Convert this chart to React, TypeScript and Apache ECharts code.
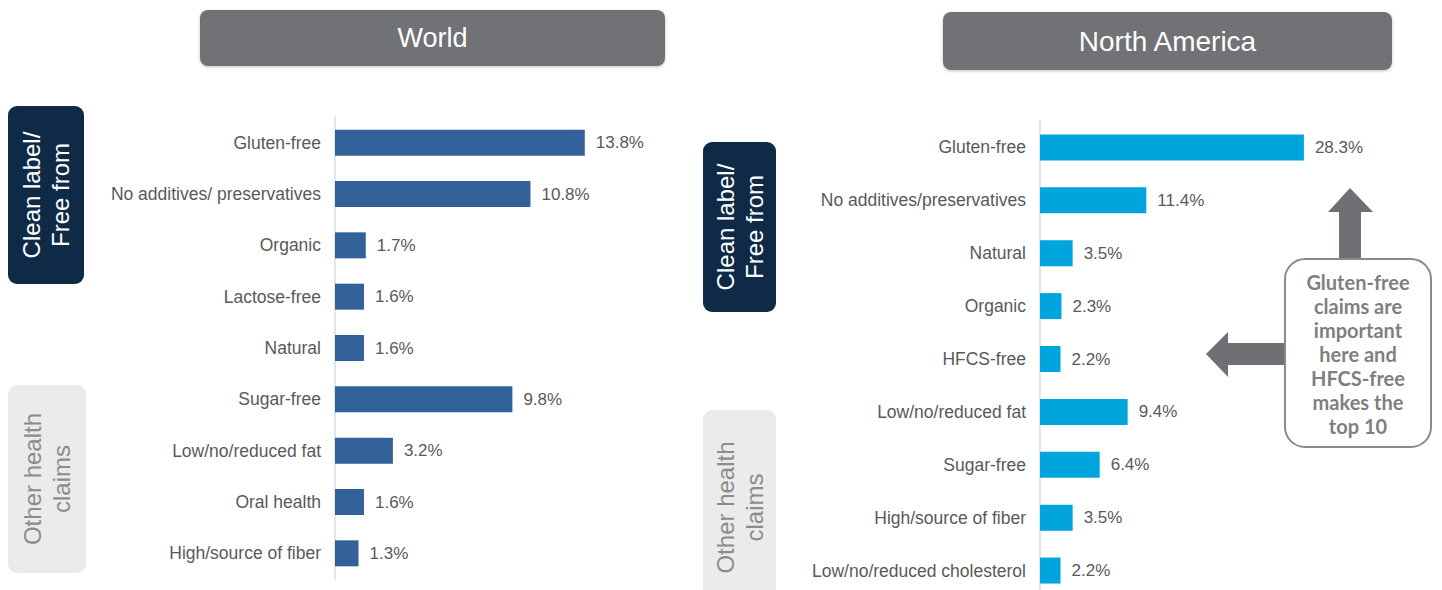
import React, { useEffect, useRef } from "react";
import * as echarts from "echarts";

const worldCategories = [
  "Gluten-free",
  "No additives/ preservatives",
  "Organic",
  "Lactose-free",
  "Natural",
  "Sugar-free",
  "Low/no/reduced fat",
  "Oral health",
  "High/source of fiber",
];
const worldValues = [13.8, 10.8, 1.7, 1.6, 1.6, 9.8, 3.2, 1.6, 1.3];

const naCategories = [
  "Gluten-free",
  "No additives/preservatives",
  "Natural",
  "Organic",
  "HFCS-free",
  "Low/no/reduced fat",
  "Sugar-free",
  "High/source of fiber",
  "Low/no/reduced cholesterol",
];
const naValues = [28.3, 11.4, 3.5, 2.3, 2.2, 9.4, 6.4, 3.5, 2.2];

const panelTitles = ["World", "North America"];
const groupLabels = ["Clean label/\nFree from", "Other health\nclaims"];
const calloutText = "Gluten-free\nclaims are\nimportant\nhere and\nHFCS-free\nmakes the\ntop 10";

const FONT = "Liberation Sans, Arial, sans-serif";
const LABEL_COLOR = "#595959";
const ARROW_COLOR = "#6f7073";

export default function App() {
  const ref = useRef<HTMLDivElement>(null);

  useEffect(() => {
    document.body.style.margin = "0";
    const chart = echarts.init(ref.current!, null, { renderer: "svg" });

    const yAxisCommon = {
      type: "category" as const,
      inverse: true,
      axisTick: { show: false },
      axisLine: { show: true, lineStyle: { color: "#dcdcdc", width: 1.5 } },
      axisLabel: { color: LABEL_COLOR, fontSize: 17.5, fontFamily: FONT, margin: 14 },
    };
    const labelCommon = {
      show: true,
      position: "right" as const,
      distance: 11,
      color: LABEL_COLOR,
      fontSize: 17,
      fontFamily: FONT,
      formatter: "{c}%",
    };

    const sideBox = (x: number, y: number, w: number, h: number, fill: string, text: string, color: string) => ({
      type: "group",
      children: [
        { type: "rect", shape: { x, y, width: w, height: h, r: 9 }, style: { fill } },
        {
          type: "text",
          x: x + w / 2,
          y: y + h / 2,
          rotation: Math.PI / 2,
          style: {
            text,
            fill: color,
            fontSize: 24,
            lineHeight: 29,
            fontFamily: FONT,
            align: "center",
            verticalAlign: "middle",
          },
        },
      ],
    });

    const titleBox = (x: number, y: number, w: number, h: number, text: string, size: number) => ({
      type: "group",
      children: [
        {
          type: "rect",
          shape: { x, y, width: w, height: h, r: 8 },
          style: { fill: "#707274", shadowBlur: 3, shadowColor: "rgba(0,0,0,0.25)", shadowOffsetY: 1 },
        },
        {
          type: "text",
          x: x + w / 2,
          y: y + h / 2,
          style: { text, fill: "#ffffff", fontSize: size, fontFamily: FONT, align: "center", verticalAlign: "middle" },
        },
      ],
    });

    chart.setOption({
      animation: false,
      grid: [
        { left: 335, top: 117, width: 362, height: 462 },
        { left: 1040, top: 121, width: 373, height: 476 },
      ],
      xAxis: [
        { type: "value", gridIndex: 0, min: 0, max: 20, show: false, splitLine: { show: false } },
        { type: "value", gridIndex: 1, min: 0, max: 40, show: false, splitLine: { show: false } },
      ],
      yAxis: [
        { ...yAxisCommon, gridIndex: 0, data: worldCategories },
        { ...yAxisCommon, gridIndex: 1, data: naCategories },
      ],
      series: [
        {
          type: "bar",
          xAxisIndex: 0,
          yAxisIndex: 0,
          data: worldValues,
          barWidth: 26,
          itemStyle: { color: "#33619a" },
          label: labelCommon,
        },
        {
          type: "bar",
          xAxisIndex: 1,
          yAxisIndex: 1,
          data: naValues,
          barWidth: 26,
          itemStyle: { color: "#00a5de" },
          label: labelCommon,
        },
      ],
      graphic: [
        titleBox(200, 10, 465, 56, panelTitles[0], 27),
        titleBox(943, 12, 449, 58, panelTitles[1], 28),
        sideBox(8, 106, 76, 178, "#0e2a47", groupLabels[0], "#ffffff"),
        sideBox(8, 385, 78, 188, "#ebebeb", groupLabels[1], "#8c8c8c"),
        sideBox(703, 142, 73, 170, "#0e2a47", groupLabels[0], "#ffffff"),
        sideBox(703, 410, 73, 195, "#ebebeb", groupLabels[1], "#8c8c8c"),
        {
          type: "polygon",
          shape: {
            points: [
              [1339, 260],
              [1339, 212],
              [1328, 212],
              [1350, 188],
              [1373, 212],
              [1361, 212],
              [1361, 260],
            ],
          },
          style: { fill: ARROW_COLOR },
        },
        {
          type: "polygon",
          shape: {
            points: [
              [1287, 343],
              [1228, 343],
              [1228, 332],
              [1206, 354],
              [1228, 377],
              [1228, 365],
              [1287, 365],
            ],
          },
          style: { fill: ARROW_COLOR },
        },
        {
          type: "rect",
          shape: { x: 1285, y: 259, width: 146, height: 188, r: 20 },
          style: { fill: "#ffffff", stroke: "#8a8a8a", lineWidth: 2 },
        },
        {
          type: "text",
          x: 1358,
          y: 354,
          style: {
            text: calloutText,
            fill: "#7f7f7f",
            fontSize: 20,
            fontWeight: "bold",
            lineHeight: 24,
            fontFamily: "Lato, Open Sans, sans-serif",
            align: "center",
            verticalAlign: "middle",
          },
        },
      ],
    });

    return () => chart.dispose();
  }, []);

  return (
    <div style={{ position: "absolute", left: 0, top: 0, width: 1442, height: 590, overflow: "hidden" }}>
      <div ref={ref} style={{ width: 1442, height: 620 }} />
    </div>
  );
}
